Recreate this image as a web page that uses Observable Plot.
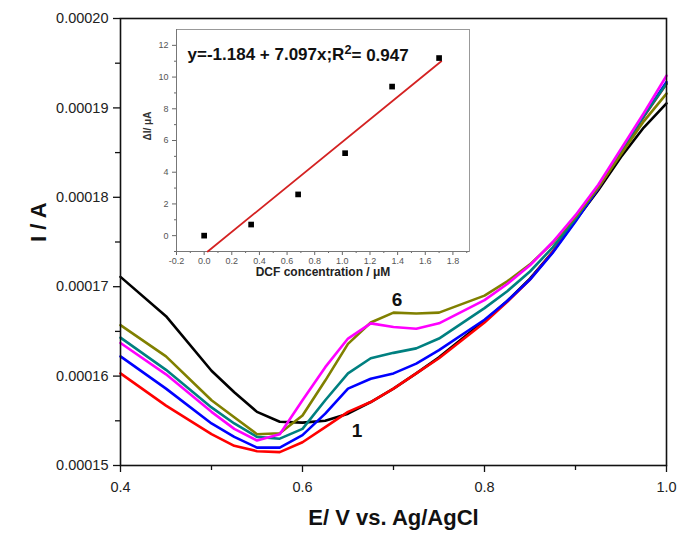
<!DOCTYPE html>
<html><head><meta charset="utf-8">
<script src="https://cdn.jsdelivr.net/npm/d3@7"></script>
<script src="https://cdn.jsdelivr.net/npm/@observablehq/plot@0.6"></script>
<style>
body{margin:0;background:#fff;}
#wrap{position:relative;width:681px;height:541px;}
#wrap > svg{position:absolute;left:0;top:0;}
#wrap > .inset{position:absolute;left:140px;top:22px;}
</style></head><body><div id="wrap"></div>
<script>
// ---- main chart data (current in units of 1e-5 A) ----
const potential = [0.40,0.45,0.50,0.525,0.55,0.575,0.60,0.625,0.65,0.675,0.70,0.725,0.75,0.80,0.825,0.85,0.875,0.90,0.925,0.95,0.975,1.00];
const curveBlack   = [17.11,16.67,16.06,15.82,15.60,15.49,15.48,15.50,15.58,15.71,15.86,16.03,16.21,16.62,16.84,17.09,17.39,17.74,18.08,18.45,18.78,19.05];
const curveRed     = [16.03,15.67,15.35,15.22,15.16,15.15,15.26,15.43,15.60,15.71,15.86,16.03,16.20,16.60,16.83,17.08,17.39,17.75,18.10,18.50,18.90,19.27];
const curveBlue    = [16.22,15.86,15.47,15.32,15.20,15.20,15.34,15.58,15.86,15.97,16.03,16.14,16.29,16.63,16.84,17.08,17.38,17.73,18.10,18.52,18.91,19.29];
const curveTeal    = [16.43,16.07,15.65,15.47,15.32,15.30,15.41,15.73,16.03,16.20,16.26,16.31,16.42,16.76,16.95,17.17,17.44,17.76,18.12,18.52,18.91,19.27];
const curveOlive   = [16.57,16.22,15.73,15.54,15.35,15.36,15.56,15.95,16.36,16.60,16.71,16.70,16.71,16.90,17.06,17.25,17.49,17.78,18.11,18.48,18.85,19.16];
const curveMagenta = [16.37,16.02,15.60,15.41,15.28,15.35,15.73,16.10,16.42,16.59,16.55,16.53,16.59,16.85,17.03,17.24,17.50,17.80,18.14,18.54,18.94,19.36];
const seriesNames  = ["black","red","blue","teal","olive","magenta"];
const seriesColors = ["#000000","#e81818","#1515e0","#138a8a","#8a8a12","#f018f0"];
const xTicks = [0.4,0.6,0.8,1.0];
const xMinor = [0.5,0.7,0.9];
const yTicks = [0.00015,0.00016,0.00017,0.00018,0.00019,0.00020];
const yMinor = [0.000155,0.000165,0.000175,0.000185,0.000195];
const curveLabels = ["6","1"];
const curveLabelX = [0.704,0.660];
const curveLabelY = [0.0001685,0.0001539];

// ---- inset data ----
const conc = [0, 0.34, 0.68, 1.02, 1.36, 1.70];
const deltaI = [0.0, 0.7, 2.6, 5.2, 9.4, 11.2];
const fitIntercept = -1.184, fitSlope = 7.097;
const fitX = [0.026, 1.716];
const insetXTicks = [-0.2,0,0.2,0.4,0.6,0.8,1.0,1.2,1.4,1.6,1.8];
const insetXMinor = [-0.1,0.1,0.3,0.5,0.7,0.9,1.1,1.3,1.5,1.7,1.9];
const insetYTicks = [0,2,4,6,8,10,12];
const insetYMinor = [-1,1,3,5,7,9,11];

const allSeries = [curveBlack,curveRed,curveBlue,curveTeal,curveOlive,curveMagenta];
const rows = [];
allSeries.forEach((s,i) => s.forEach((v,j) => rows.push({E: potential[j], I: v*1e-5, s: seriesNames[i]})));
const labelRows = curveLabels.map((t,i)=>({t, x: curveLabelX[i], y: curveLabelY[i]}));

const font = "Liberation Sans, Arial, Helvetica, sans-serif";

const main = Plot.plot({
  width: 681, height: 541,
  marginLeft: 120, marginRight: 15, marginTop: 18, marginBottom: 76,
  style: {fontFamily: font, fontSize: "14px", color: "#222", background: "white"},
  x: {domain: [0.4, 1.0], label: null},
  y: {domain: [0.00015, 0.00020], label: null},
  color: {domain: seriesNames, range: seriesColors},
  marks: [
    Plot.axisX(xTicks, {tickSize: 7, tickPadding: 9, tickFormat: d => d.toFixed(1), label: null, fontSize: 14.5, stroke: "#111", strokeWidth: 1.3}),
    Plot.axisX(xMinor, {tickSize: 5, tickFormat: () => "", label: null, stroke: "#111", strokeWidth: 1.3}),
    Plot.axisY(yTicks, {tickSize: 7, tickPadding: 5, tickFormat: d => d.toFixed(5), label: null, fontSize: 14.5, stroke: "#111", strokeWidth: 1.3}),
    Plot.axisY(yMinor, {tickSize: 5, tickFormat: () => "", label: null, stroke: "#111", strokeWidth: 1.3}),
    Plot.line(rows, {x: "E", y: "I", z: "s", stroke: "s", strokeWidth: 2.6, curve: "linear"}),
    Plot.frame({stroke: "#111", strokeWidth: 1.6}),
    Plot.text(labelRows, {x: "x", y: "y", text: "t", fontSize: 19, fontWeight: "bold", fill: "#111"}),
    Plot.text(["E/ V vs. Ag/AgCl"], {frameAnchor: "bottom", dy: 59, fontSize: 22, fontWeight: "bold", fill: "#111"}),
    Plot.text(["I / A"], {frameAnchor: "left", dx: -82, rotate: -90, fontSize: 22, fontWeight: "bold", fill: "#111"})
  ]
});

const pts = conc.map((c,i)=>({x: c, y: deltaI[i]}));
const fit = fitX.map(x => ({x, y: fitIntercept + fitSlope*x}));

const inset = Plot.plot({
  className: "inset",
  width: 335, height: 263,
  marginLeft: 36, marginRight: 6, marginTop: 7, marginBottom: 34,
  style: {fontFamily: font, fontSize: "9px", color: "#555", background: "transparent", overflow: "visible"},
  x: {domain: [-0.2, 1.92], label: null},
  y: {domain: [-1, 13], label: null},
  marks: [
    Plot.frame({stroke: "#999", strokeWidth: 1}),
    Plot.axisX(insetXTicks, {tickSize: 4, tickPadding: 2, tickFormat: d => d.toFixed(1), label: null, stroke: "#666"}),
    Plot.axisX(insetXMinor, {tickSize: 2, tickFormat: () => "", label: null, stroke: "#666"}),
    Plot.axisY(insetYTicks, {tickSize: 4, tickPadding: 4, tickFormat: d => String(d), label: null, stroke: "#666"}),
    Plot.axisY(insetYMinor, {tickSize: 2, tickFormat: () => "", label: null, stroke: "#666"}),
    Plot.ruleX([-0.2], {stroke: "#777"}),
    Plot.ruleY([-1], {stroke: "#777"}),
    Plot.line(fit, {x: "x", y: "y", stroke: "#d42222", strokeWidth: 1.8}),
    Plot.dot(pts, {x: "x", y: "y", symbol: "square", r: 3.2, fill: "#000", stroke: null}),
    Plot.text(["y=-1.184 + 7.097x;R2= 0.947"], {frameAnchor: "top-left", dx: 11, dy: 18, textAnchor: "start", fontSize: 17, fontWeight: "bold", fill: "#111"}),
    Plot.text(["DCF concentration / \u03bcM"], {frameAnchor: "bottom", dy: 24, fontSize: 12, fontWeight: "bold", fill: "#222"}),
    Plot.text(["\u0394I/ \u03bcA"], {frameAnchor: "left", dx: -29, dy: 0, rotate: -90, fontSize: 10, fontWeight: "bold", fill: "#333"})
  ]
});

// superscript the 2 in R2
d3.select(inset).selectAll("text").each(function() {
  const t = this.textContent;
  if (t && t.indexOf("R2=") >= 0 && this.children.length === 0) {
    const parts = t.split("R2");
    const sel = d3.select(this);
    sel.text(null);
    sel.append("tspan").text(parts[0] + "R");
    sel.append("tspan").attr("dy", "-0.4em").attr("font-size", "0.75em").text("2");
    sel.append("tspan").attr("dy", "0.4em").text(parts[1]);
  }
});

const wrap = document.getElementById("wrap");
wrap.appendChild(main);
wrap.appendChild(inset);
</script></body></html>
